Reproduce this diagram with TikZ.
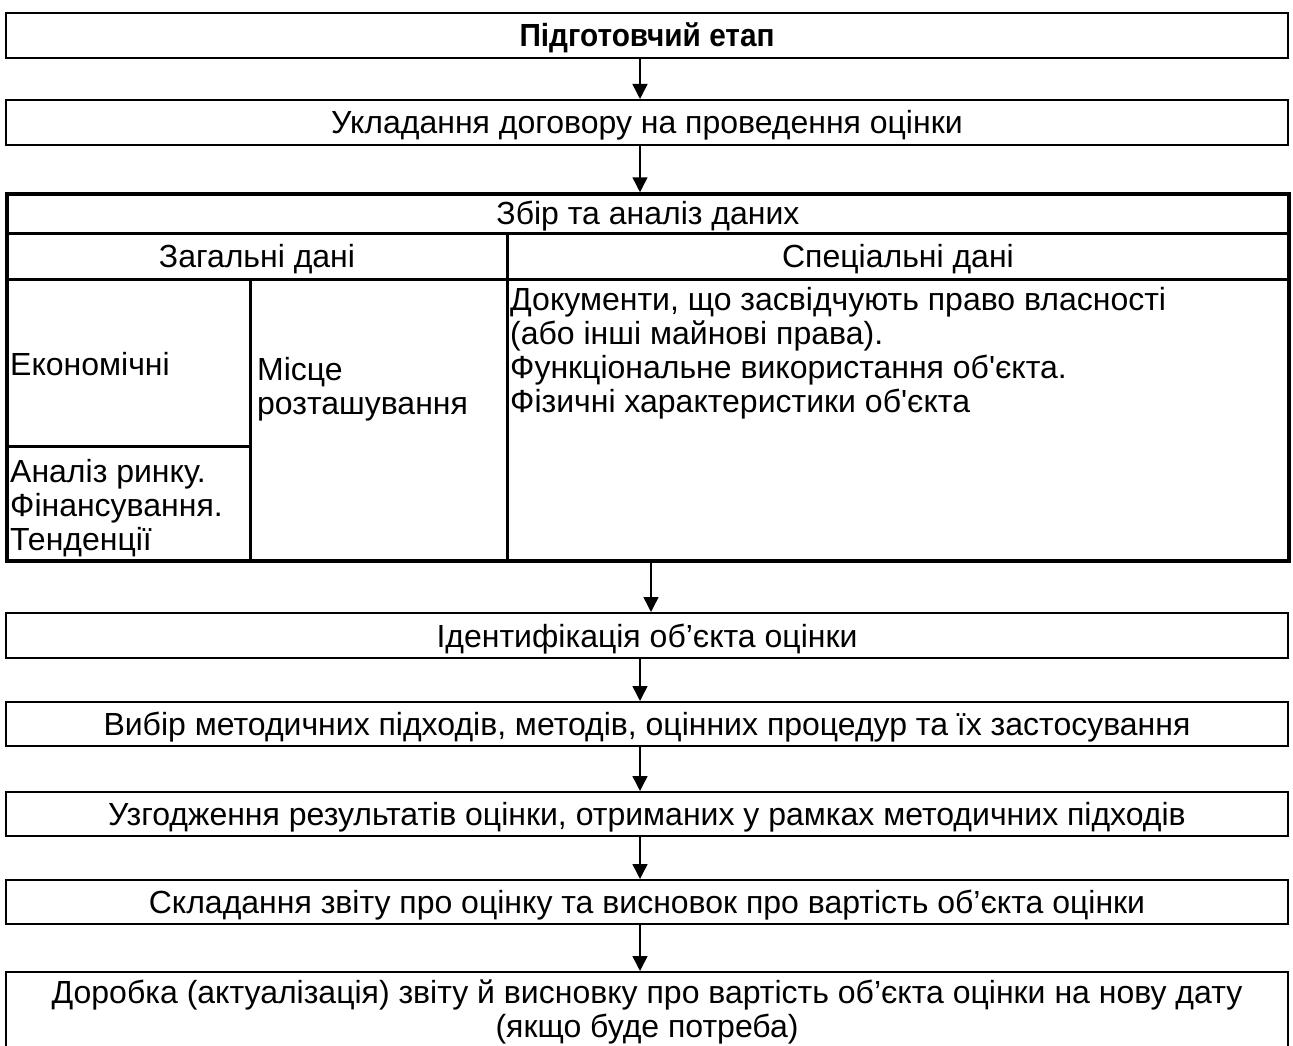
\documentclass[tikz,border=0pt]{standalone}
\usepackage{fontspec}
\setmainfont{Liberation Sans}[Ligatures=TeXOff]
\newfontface\bfnarrow{Liberation Sans Bold}[FakeStretch=0.93]
\usetikzlibrary{arrows.meta}
\newcommand\myfs{\fontsize{32}{34}\selectfont}
\begin{document}
\begin{tikzpicture}[x=1pt,y=-1pt,
  box/.style={draw, line width=2pt, minimum width=1282pt, inner sep=0pt, align=center, font=\myfs},
  one/.style={text height=23pt, text depth=0pt},
  txt/.style={inner sep=0pt, font=\myfs, align=left},
  arr/.style={line width=1.5pt, -{Triangle[length=15pt,width=15pt]}},
  inner/.style={line width=3pt}]
\useasboundingbox (0,0) rectangle (1293,1046);
\fill[white] (0,0) rectangle (1293,1046);

\node[box, one, minimum height=45pt] (b1) at (647,35.5) {\bfnarrow Підготовчий етап};
\node[box, one, minimum height=45pt] (b2) at (647,122.5) {Укладання договору на проведення оцінки};

\node[draw, line width=3.5pt, minimum width=1282pt, minimum height=367pt, inner sep=0pt] (tab) at (648,377.5) {};
\coordinate (r1l) at (7,233); \coordinate (r1r) at (1289,233);
\coordinate (r2l) at (7,279); \coordinate (r2r) at (1289,279);
\coordinate (c2t) at (507,233); \coordinate (c2b) at (507,561);
\coordinate (c1t) at (250,279); \coordinate (c1b) at (250,561);
\coordinate (sl) at (7,446); \coordinate (sr) at (250,446);
\draw[inner] (r1l) -- (r1r);
\draw[inner] (r2l) -- (r2r);
\draw[inner] (c2t) -- (c2b);
\draw[inner] (c1t) -- (c1b);
\draw[inner] (sl) -- (sr);

\node[txt, one] (zbir) at (648,213) {Збір та аналіз даних};
\node[txt, one] (zag) at (257,256) {Загальні дані};
\node[txt, one] (spec) at (898,256) {Спеціальні дані};
\node[txt, one, anchor=west] (ekon) at (10,364) {Економічні};
\node[txt, anchor=west] (anal) at (10,508) {Аналіз ринку.\\Фінансування.\\Тенденції};
\node[txt, anchor=west] (misce) at (257,389) {Місце\\розташування};
\node[txt, anchor=west] (doc) at (510,353) {Документи, що засвідчують право власності\\(або інші майнові права).\\Функціональне використання об'єкта.\\Фізичні характеристики об'єкта};

\node[box, one, minimum height=45pt] (b3) at (647,635.5) {Ідентифікація об’єкта оцінки};
\node[box, one, minimum height=44pt] (b4) at (647,724) {Вибір методичних підходів, методів, оцінних процедур та їх застосування};
\node[box, one, minimum height=44pt] (b5) at (647,814) {Узгодження результатів оцінки, отриманих у рамках методичних підходів};
\node[box, one, minimum height=44pt] (b6) at (647,902) {Складання звіту про оцінку та висновок про вартість об’єкта оцінки};
\node[box, minimum height=80pt] (b7) at (647,1012) {Доробка (актуалізація) звіту й висновку про вартість об’єкта оцінки на нову дату\\(якщо буде потреба)};

\draw[arr] ([xshift=-7pt]b1.south) -- ([xshift=-7pt]b2.north);
\draw[arr] ([xshift=-7pt]b2.south) -- ([xshift=-7pt]b2.south |- tab.north);
\draw[arr] ([xshift=3pt]tab.south) -- ([xshift=3pt]tab.south |- b3.north);
\draw[arr] ([xshift=-7pt]b3.south) -- ([xshift=-7pt]b4.north);
\draw[arr] ([xshift=-7pt]b4.south) -- ([xshift=-7pt]b5.north);
\draw[arr] ([xshift=-7pt]b5.south) -- ([xshift=-7pt]b6.north);
\draw[arr] ([xshift=-7pt]b6.south) -- ([xshift=-7pt]b7.north);
\end{tikzpicture}
\end{document}
